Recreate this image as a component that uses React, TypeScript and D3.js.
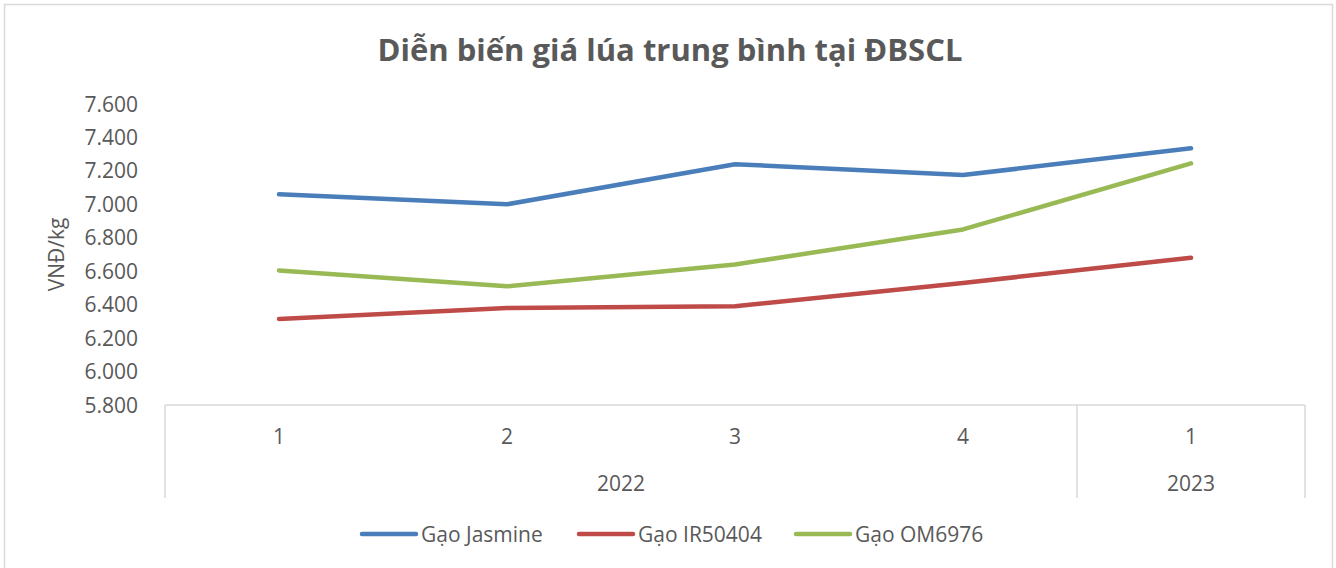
import React, { useEffect, useRef } from 'react';
import * as d3 from 'd3';

const quarters = ['1', '2', '3', '4', '1'];
const years = ['2022', '2022', '2022', '2022', '2023'];
const jasmine = [7060, 7000, 7240, 7175, 7335];
const ir50404 = [6315, 6380, 6390, 6530, 6680];
const om6976 = [6605, 6510, 6640, 6850, 7245];
const yTicks = [5800, 6000, 6200, 6400, 6600, 6800, 7000, 7200, 7400, 7600];

const seriesList = [
  { name: 'Gạo Jasmine', values: jasmine, color: '#4a7ebb' },
  { name: 'Gạo IR50404', values: ir50404, color: '#be4b48' },
  { name: 'Gạo OM6976', values: om6976, color: '#98b954' },
];

const App = () => {
  const chartRef = useRef<SVGSVGElement>(null);

  useEffect(() => {
    const svg = d3.select(chartRef.current);
    svg.selectAll('*').remove();
    const width = 1336;
    const left = 165;
    const right = 1305;
    const top = 104;
    const bottom = 405;
    const textColor = '#595959';
    const font = '"Open Sans", Lato, sans-serif';
    const fs = 21;

    svg.append('rect')
      .attr('x', 4.5).attr('y', 4.5)
      .attr('width', 1328).attr('height', 570)
      .attr('fill', '#fff').attr('stroke', '#d9d9d9').attr('stroke-width', 1.5);

    svg.append('text')
      .attr('x', width / 2 + 2).attr('y', 61)
      .attr('text-anchor', 'middle')
      .attr('font-family', font).attr('font-weight', 700)
      .attr('font-size', 31).attr('fill', textColor)
      .text('Diễn biến giá lúa trung bình tại ĐBSCL');

    const xScale = d3.scaleBand<number>()
      .domain(quarters.map((_, i) => i))
      .range([left, right])
      .padding(0);
    const cx = (i: number) => (xScale(i) as number) + xScale.bandwidth() / 2;

    const yScale = d3.scaleLinear().domain([5800, 7600]).range([bottom, top]);

    // y tick labels
    svg.append('g')
      .selectAll('text')
      .data(yTicks)
      .enter()
      .append('text')
      .attr('x', 138)
      .attr('y', (d) => yScale(d))
      .attr('dy', '0.36em')
      .attr('text-anchor', 'end')
      .attr('font-family', font).attr('font-size', fs).attr('fill', textColor)
      .text((d) => d3.format(',')(d).replace(',', '.'));

    svg.append('text')
      .attr('transform', `translate(64,${(top + bottom) / 2}) rotate(-90)`)
      .attr('text-anchor', 'middle')
      .attr('font-family', font).attr('font-size', fs).attr('fill', textColor)
      .text('VNĐ/kg');

    // category axis (two levels)
    const axisG = svg.append('g')
      .attr('stroke', '#d9d9d9').attr('stroke-width', 1.5).attr('fill', 'none');
    axisG.append('line').attr('x1', left).attr('x2', right).attr('y1', bottom).attr('y2', bottom);
    const yearGroups = d3.groups(quarters.map((q, i) => ({ q, i, y: years[i] })), (d) => d.y);
    const bounds = [left];
    yearGroups.forEach(([, items]) => {
      const last = items[items.length - 1].i;
      bounds.push((xScale(last) as number) + xScale.bandwidth());
    });
    bounds.forEach((b) => {
      axisG.append('line').attr('x1', b).attr('x2', b).attr('y1', bottom).attr('y2', 498);
    });

    svg.append('g')
      .selectAll('text')
      .data(quarters)
      .enter()
      .append('text')
      .attr('x', (_, i) => cx(i))
      .attr('y', 444)
      .attr('text-anchor', 'middle')
      .attr('font-family', font).attr('font-size', fs).attr('fill', textColor)
      .text((d) => d);

    svg.append('g')
      .selectAll('text')
      .data(yearGroups)
      .enter()
      .append('text')
      .attr('x', ([, items]) => {
        const a = xScale(items[0].i) as number;
        const b = (xScale(items[items.length - 1].i) as number) + xScale.bandwidth();
        return (a + b) / 2;
      })
      .attr('y', 491)
      .attr('text-anchor', 'middle')
      .attr('font-family', font).attr('font-size', fs).attr('fill', textColor)
      .text(([y]) => y);

    const line = d3.line<number>()
      .x((_, i) => cx(i))
      .y((d) => yScale(d));

    svg.append('g')
      .selectAll('path')
      .data(seriesList)
      .enter()
      .append('path')
      .attr('d', (d) => line(d.values))
      .attr('fill', 'none')
      .attr('stroke', (d) => d.color)
      .attr('stroke-width', 4.5)
      .attr('stroke-linecap', 'round')
      .attr('stroke-linejoin', 'round');

    // legend
    const legendX = [362, 579, 796];
    const legend = svg.append('g')
      .selectAll('g')
      .data(seriesList)
      .enter()
      .append('g')
      .attr('transform', (_, i) => `translate(${legendX[i]},534)`);
    legend.append('line')
      .attr('x1', 0).attr('x2', 54).attr('y1', 0).attr('y2', 0)
      .attr('stroke', (d) => d.color).attr('stroke-width', 4.5).attr('stroke-linecap', 'round');
    legend.append('text')
      .attr('x', 59).attr('y', 0).attr('dy', '0.36em')
      .attr('font-family', font).attr('font-size', fs).attr('fill', textColor)
      .text((d) => d.name);
  }, []);

  return (
    <svg
      ref={chartRef}
      width={1336}
      height={568}
      style={{ position: 'absolute', left: 0, top: 0 }}
    ></svg>
  );
};

export default App;
